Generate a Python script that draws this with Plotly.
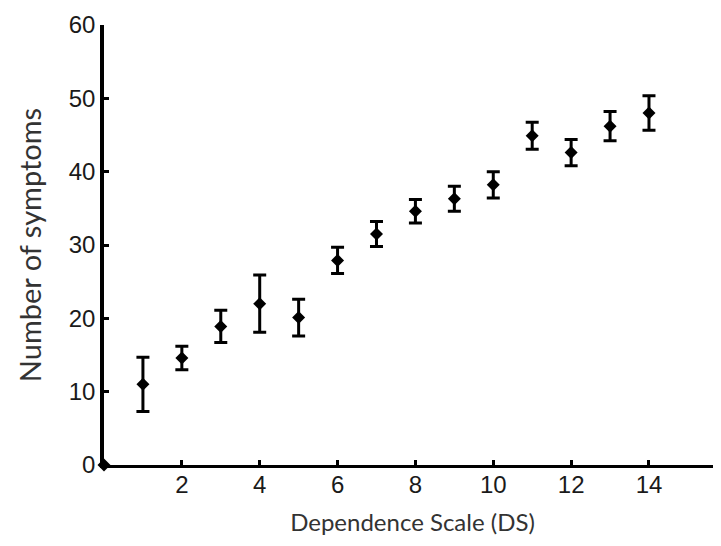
import plotly.graph_objects as go

ds = [1, 2, 3, 4, 5, 6, 7, 8, 9, 10, 11, 12, 13, 14]
symptoms = [11.0, 14.6, 18.9, 22.0, 20.1, 27.9, 31.5, 34.6, 36.3, 38.2, 44.9, 42.6, 46.2, 48.0]
err = [3.7, 1.6, 2.2, 3.9, 2.5, 1.8, 1.7, 1.6, 1.7, 1.8, 1.85, 1.8, 2.0, 2.35]
origin_x = [0]
origin_y = [0]

x_ticks = [2, 4, 6, 8, 10, 12, 14]
y_ticks = [0, 10, 20, 30, 40, 50, 60]

fig = go.Figure()
fig.add_trace(go.Scatter(
    x=ds, y=symptoms, mode="markers",
    marker=dict(symbol="diamond", size=10, color="black"),
    error_y=dict(type="data", array=err, visible=True, color="black", thickness=3, width=6.5),
    cliponaxis=False, showlegend=False,
))
fig.add_trace(go.Scatter(
    x=origin_x, y=origin_y, mode="markers",
    marker=dict(symbol="diamond", size=10, color="black"),
    cliponaxis=False, showlegend=False,
))

fig.update_layout(
    width=713, height=538,
    margin=dict(l=96, r=0, t=17, b=81),
    plot_bgcolor="white", paper_bgcolor="white",
    font=dict(family="Liberation Sans, Arial", color="#1a1a1a"),
)
fig.update_xaxes(
    range=[0, 15.85], tickvals=x_ticks, ticktext=[str(v) for v in x_ticks],
    showgrid=False, zeroline=False, showline=True, linecolor="black", linewidth=2.5,
    ticks="inside", ticklen=5, tickwidth=2.5, tickcolor="black",
    ticklabelstandoff=-4,
    tickfont=dict(size=24, family="Liberation Sans, Arial", color="#1a1a1a"),
    title=dict(text="Dependence Scale (DS)", standoff=18,
               font=dict(size=24, family="Lato, Open Sans", color="#333333")),
)
fig.update_yaxes(
    range=[0, 60], tickvals=y_ticks,
    showgrid=False, zeroline=False, showline=True, linecolor="black", linewidth=3.5,
    ticks="inside", ticklen=5, tickwidth=2.5, tickcolor="black",
    tickfont=dict(size=24, family="Liberation Sans, Arial", color="#1a1a1a"),
    title=dict(text="Number of symptoms", standoff=20,
               font=dict(size=29, family="Lato, Open Sans", color="#333333")),
)

fig.write_html("out.html")
